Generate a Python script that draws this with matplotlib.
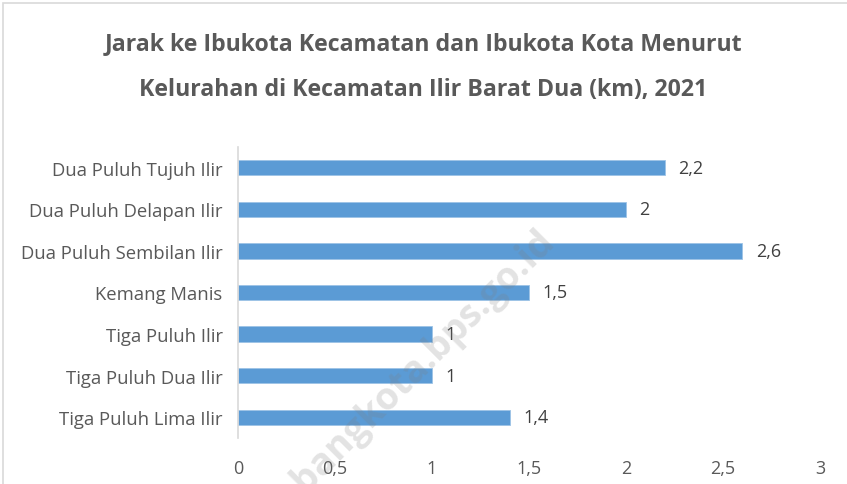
import matplotlib.pyplot as plt
from matplotlib.patches import Rectangle

# data kelurahan (atas ke bawah)
kelurahan = ["Dua Puluh Tujuh Ilir", "Dua Puluh Delapan Ilir", "Dua Puluh Sembilan Ilir",
             "Kemang Manis", "Tiga Puluh Ilir", "Tiga Puluh Dua Ilir", "Tiga Puluh Lima Ilir"]
jarak = [2.2, 2.0, 2.6, 1.5, 1.0, 1.0, 1.4]
label_jarak = ["2,2", "2", "2,6", "1,5", "1", "1", "1,4"]
xticks = [0, 0.5, 1, 1.5, 2, 2.5, 3]
xtick_labels = ["0", "0,5", "1", "1,5", "2", "2,5", "3"]

plt.rcParams['font.family'] = ['Open Sans', 'DejaVu Sans']
abu = "#595959"

fig = plt.figure(figsize=(8.47, 4.85), dpi=100)
fig.patches.append(Rectangle((3/847, -0.1), 1.2, 1 - 4/485 + 0.1, transform=fig.transFigure,
                             fill=False, edgecolor="#d9d9d9", linewidth=1.2))

ax = fig.add_axes([238/847, 1 - 439/485, 582/847, 291/485])
pos = list(range(len(kelurahan)))
ax.barh(pos, jarak, height=0.37, color="#5b9bd5", edgecolor="#9dc3e6", linewidth=0.6)
for p, v, t in zip(pos, jarak, label_jarak):
    ax.text(v + 0.07, p, t, va="center", ha="left", fontsize=13, color="#404040")

ax.set_ylim(len(kelurahan) - 0.5, -0.5)
ax.set_xlim(0, 3)
ax.set_yticks(pos)
ax.set_yticklabels(kelurahan, fontsize=13.3, color=abu)
ax.set_xticks(xticks)
ax.set_xticklabels(xtick_labels, fontsize=13, color=abu)
ax.tick_params(length=0)
ax.tick_params(axis="y", pad=11)
ax.tick_params(axis="x", pad=15)
for s in ["top", "right", "bottom"]:
    ax.spines[s].set_visible(False)
ax.spines["left"].set_color("#d9d9d9")
ax.spines["left"].set_linewidth(1.2)

fig.text(0.5, 1 - 44/485, "Jarak ke Ibukota Kecamatan dan Ibukota Kota Menurut",
         ha="center", va="center", fontsize=16.7, fontweight="bold", color=abu)
fig.text(0.5, 1 - 90/485, "Kelurahan di Kecamatan Ilir Barat Dua (km), 2021",
         ha="center", va="center", fontsize=16.7, fontweight="bold", color=abu)

# watermark
fig.text(548/847, 1 - 236/485, "palembangkota.bps.go.id", ha="right", va="center",
         rotation=45, rotation_mode="anchor", fontsize=27, fontweight="bold",
         color="#7f7f7f", alpha=0.22)

fig.savefig("out.png", dpi=100)
